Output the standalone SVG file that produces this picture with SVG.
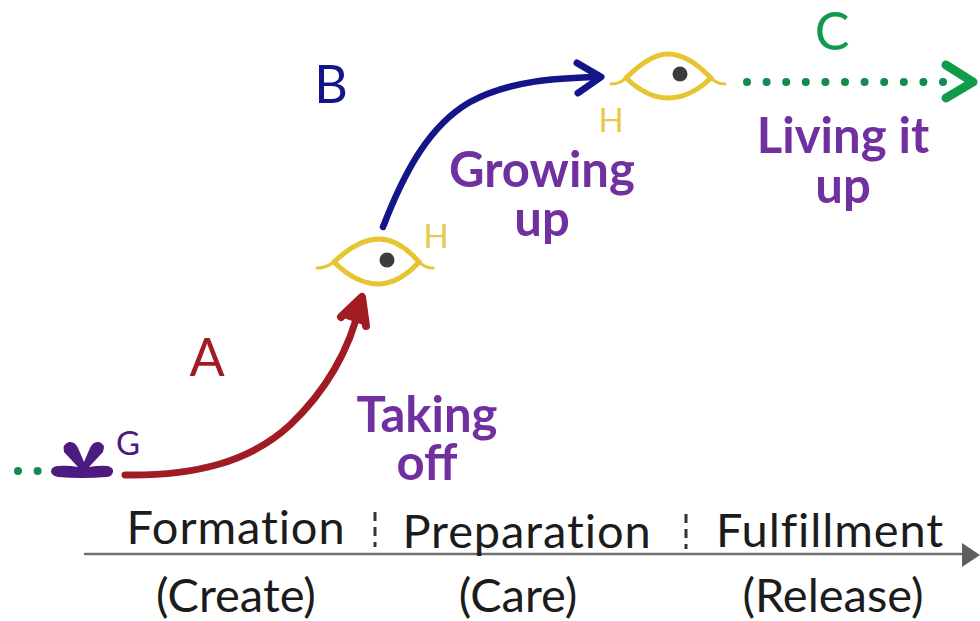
<svg xmlns="http://www.w3.org/2000/svg" width="980" height="621" viewBox="0 0 980 621">
<style>
text{font-family:Lato,"Liberation Sans",sans-serif}
.stage{font-size:47px;fill:#1c1c1c;text-anchor:middle}
.wide{letter-spacing:.9px}
.act{font-size:49px;font-weight:700;fill:#7030a0;text-anchor:middle}
.h{font-size:33px;fill:#e8c94e;text-anchor:middle}
.big{font-size:52px;text-anchor:middle}
.eye{fill:none;stroke:#e6c531;stroke-width:5;stroke-linecap:round}
.tail{fill:none;stroke:#e6c531;stroke-width:3;stroke-linecap:round}
.pupil{fill:#3c3c3c}
.dots{fill:none;stroke:#128a50;stroke-width:8;stroke-linecap:round;stroke-dasharray:0 19.6}
</style>
<rect width="980" height="621" fill="#fff"/>
<g id="connectors" fill="none" stroke-linecap="round" stroke-linejoin="round">
<path d="M125 475C195 476 250 462 290 425C325 392 350 350 360 304" stroke="#a11c22" stroke-width="7"/>
<path d="M341 317L362 297L366 326" stroke="#a11c22" stroke-width="8" fill="#a11c22"/>
<path d="M383 227C405 170 430 125 470 102C510 80 560 78 597 77" stroke="#15158a" stroke-width="6.5"/>
<path d="M577 63L601 77L578 93" stroke="#15158a" stroke-width="7"/>
<path class="dots" d="M18 471H40"/>
<path class="dots" d="M747 82H946"/>
<path d="M946 65L973 82L946 98" stroke="#0f9a4c" stroke-width="9"/>
<path d="M85 554H966" stroke="#6f6f6f" stroke-width="2.5"/>
<path d="M962 543L980 555L962 567Z" fill="#5f5f5f" stroke="none"/>
<path d="M375 512V547M686 514V549" stroke="#333" stroke-width="3" stroke-linecap="butt" stroke-dasharray="9 6"/>
</g>
<g id="node-g">
<path d="M78 467L64 452Q62 444 69 442Q75 441 78 448L84 462L90 448Q93 441 99 442Q106 444 103 452L89 467Q100 465 108 466Q114 468 113 472Q112 477 106 477Q82 479 58 477Q52 476 51 472Q51 467 57 466Q68 465 78 467Z" fill="#4d1a80"/>
<text x="128" y="455" font-size="33" fill="#4d1a80" text-anchor="middle">G</text>
</g>
<g id="node-h1">
<path class="tail" d="M317 268Q326 268 334 262M419 262Q425 268 433 268"/>
<path class="eye" d="M334 262Q358 239 379 239Q399 239 419 262"/>
<path class="eye" d="M334 262Q356 284 379 284Q400 283 419 262"/>
<circle class="pupil" cx="387" cy="260" r="7.5"/>
<text class="h" x="436" y="248">H</text>
</g>
<g id="node-h2">
<path class="tail" d="M611 84Q620 84 626 78M711 78Q717 84 725 84"/>
<path class="eye" d="M626 78Q650 54 668 54Q688 54 711 78"/>
<path class="eye" d="M626 78Q647 98 668 98Q690 98 711 78"/>
<circle class="pupil" cx="680" cy="74" r="7.5"/>
<text class="h" x="611" y="132">H</text>
</g>
<g id="labels">
<text class="big" x="207" y="376" fill="#a11c22">A</text>
<text class="big" x="331" y="103" fill="#15158a">B</text>
<text class="big" x="832" y="50" fill="#0f9a4c">C</text>
<text class="act"><tspan x="427" y="432">Taking</tspan><tspan x="427" y="480">off</tspan></text>
<text class="act"><tspan x="542" y="187">Growing</tspan><tspan x="542" y="236">up</tspan></text>
<text class="act"><tspan x="843" y="153">Living it</tspan><tspan x="843" y="203">up</tspan></text>
<text class="stage wide" x="236" y="544">Formation</text>
<text class="stage wide" x="527" y="548">Preparation</text>
<text class="stage wide" x="830" y="547">Fulfillment</text>
<text class="stage" x="236" y="612">(Create)</text>
<text class="stage" x="518" y="612">(Care)</text>
<text class="stage" x="833" y="612">(Release)</text>
</g>
</svg>
